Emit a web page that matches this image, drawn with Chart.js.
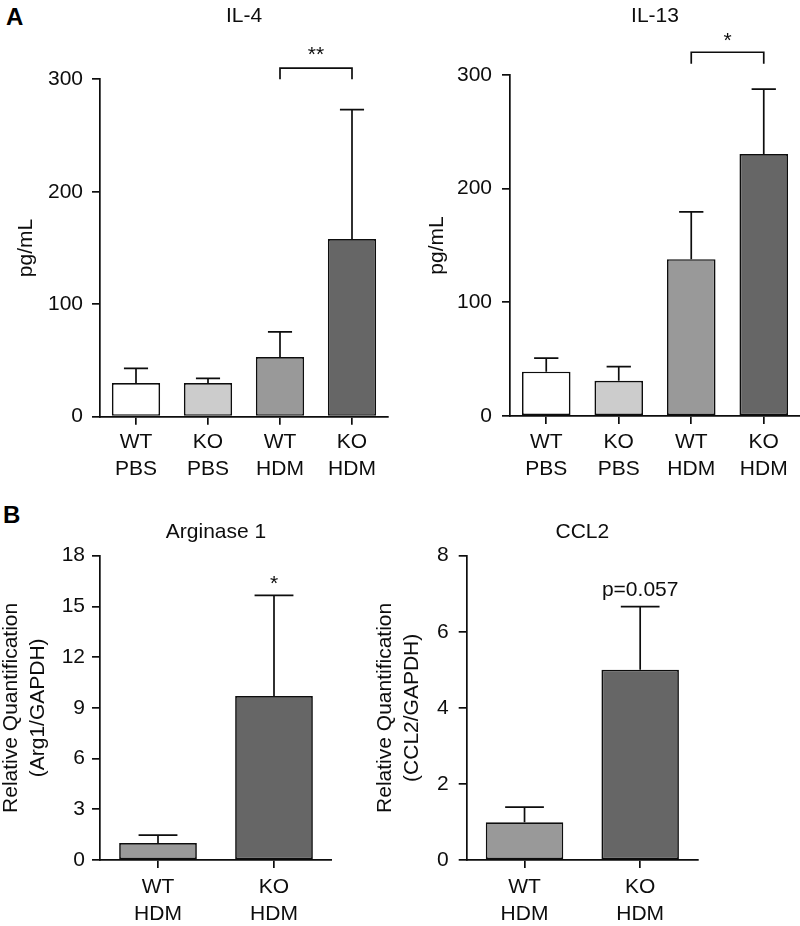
<!DOCTYPE html>
<html>
<head>
<meta charset="utf-8">
<script src="https://cdn.jsdelivr.net/npm/chart.js@4.4.1/dist/chart.umd.min.js"></script>
<style>
  body { margin: 0; width: 800px; height: 926px; position: relative; overflow: hidden; background: #fff; font-family: "Liberation Sans", Arial, sans-serif; }
  canvas { position: absolute; }
  .panel { position: absolute; font-weight: bold; font-size: 24px; line-height: 24px; color: #000; }
</style>
</head>
<body>
<div class="panel" style="left:6px; top:5px">A</div>
<div class="panel" style="left:3px; top:503px">B</div>
<canvas id="il4" width="400" height="490" style="left:0; top:0"></canvas>
<canvas id="il13" width="400" height="490" style="left:400px; top:0"></canvas>
<canvas id="arg1" width="342" height="436" style="left:-10px; top:490px"></canvas>
<canvas id="ccl2" width="330" height="436" style="left:370px; top:490px"></canvas>
<script>
// group labels
const groupsA = [['WT', 'PBS'], ['KO', 'PBS'], ['WT', 'HDM'], ['KO', 'HDM']];
const groupsB = [['WT', 'HDM'], ['KO', 'HDM']];

// means and SEM
const il4Mean = [30, 30, 53, 158];
const il4Sem = [13, 4, 22.5, 115];
const il13Mean = [39, 31, 138, 230.5];
const il13Sem = [12, 12.5, 41.5, 57];
const arg1Mean = [1.0, 9.7];
const arg1Sem = [0.47, 5.95];
const ccl2Mean = [0.99, 5.0];
const ccl2Sem = [0.4, 1.66];

const coloursA = ['#ffffff', '#cccccc', '#999999', '#666666'];
const coloursB = ['#999999', '#666666'];

const ink = '#0d0d0d';
Chart.defaults.font.family = '"Liberation Sans", Arial, sans-serif';
Chart.defaults.font.size = 21;
Chart.defaults.color = ink;

// error bars, titles, brackets and significance labels
const extras = {
  id: 'extras',
  afterDatasetsDraw(chart, args, opts) {
    const ctx = chart.ctx;
    const meta = chart.getDatasetMeta(0);
    const y = chart.scales.y;
    ctx.save();
    ctx.strokeStyle = ink;
    ctx.lineWidth = 1.7;
    meta.data.forEach((bar, i) => {
      const top = y.getPixelForValue(opts.mean[i] + opts.sem[i]);
      const half = bar.width / 4;
      ctx.beginPath();
      ctx.moveTo(bar.x, bar.y);
      ctx.lineTo(bar.x, top);
      ctx.moveTo(bar.x - half, top);
      ctx.lineTo(bar.x + half, top);
      ctx.stroke();
    });
    ctx.restore();
  },
  afterDraw(chart, args, opts) {
    const ctx = chart.ctx;
    const area = chart.chartArea;
    const meta = chart.getDatasetMeta(0);
    const y = chart.scales.y;
    ctx.save();
    ctx.fillStyle = ink;
    ctx.strokeStyle = ink;
    ctx.lineWidth = 1.7;
    ctx.textAlign = 'center';
    ctx.textBaseline = 'alphabetic';
    ctx.font = '21px "Liberation Sans", Arial, sans-serif';
    ctx.fillText(opts.title, (area.left + area.right) / 2, opts.titleY);

    if (opts.bracket) {
      const b = opts.bracket;
      const x1 = meta.data[b.from].x;
      const x2 = meta.data[b.to].x;
      const yb = y.getPixelForValue(b.at);
      const yl = y.getPixelForValue(b.leg);
      ctx.beginPath();
      ctx.moveTo(x1, yl);
      ctx.lineTo(x1, yb);
      ctx.lineTo(x2, yb);
      ctx.lineTo(x2, yl);
      ctx.stroke();
      ctx.fillText(b.label, (x1 + x2) / 2, yb - b.lift);
    }
    if (opts.mark) {
      const m = opts.mark;
      const bar = meta.data[m.index];
      const top = y.getPixelForValue(opts.mean[m.index] + opts.sem[m.index]);
      ctx.fillText(m.label, bar.x, top - m.lift);
    }
    ctx.restore();
  }
};

function makeChart(id, c) {
  return new Chart(document.getElementById(id), {
    type: 'bar',
    data: {
      labels: c.labels,
      datasets: [{
        data: c.mean,
        backgroundColor: c.colours,
        borderColor: ink,
        borderWidth: 1.7,
        borderSkipped: false,
        barPercentage: 0.67,
        categoryPercentage: 1
      }]
    },
    options: {
      responsive: false,
      animation: false,
      layout: { padding: { top: c.padTop, right: c.padRight, left: 0, bottom: 0 } },
      plugins: {
        legend: { display: false },
        tooltip: { enabled: false },
        extras: { mean: c.mean, sem: c.sem, title: c.title, titleY: c.titleY, bracket: c.bracket, mark: c.mark }
      },
      scales: {
        x: {
          grid: { drawOnChartArea: false, offset: false, tickLength: 8, color: ink, lineWidth: 1.7 },
          border: { color: ink, width: 1.7 },
          ticks: { padding: c.xPad, maxRotation: 0, autoSkip: false, font: { size: 21, lineHeight: 1.29 } },
          afterFit: s => { s.height = c.xHeight; }
        },
        y: {
          min: 0,
          max: c.yMax,
          grid: { drawOnChartArea: false, tickLength: 8, color: ink, lineWidth: 1.7 },
          border: { color: ink, width: 1.7 },
          ticks: { stepSize: c.yStep, padding: c.yPad, font: { size: 21 } },
          title: { display: true, text: c.yTitle, padding: { top: c.titlePad, bottom: 0 }, font: { size: 21, lineHeight: 1.29 } },
          afterFit: s => { s.width = c.yWidth; }
        }
      }
    },
    plugins: [extras]
  });
}

makeChart('il4', {
  labels: groupsA, mean: il4Mean, sem: il4Sem, colours: coloursA,
  yMax: 300, yStep: 100, yTitle: 'pg/mL', title: 'IL-4', titleY: 22,
  bracket: { from: 2, to: 3, at: 310, leg: 300, label: '**', lift: 7 },
  padTop: 79.3, padRight: 12, xHeight: 73.3, yWidth: 100, xPad: 3.5, yPad: 9, titlePad: 13
});

makeChart('il13', {
  labels: groupsA, mean: il13Mean, sem: il13Sem, colours: coloursA,
  yMax: 300, yStep: 100, yTitle: 'pg/mL', title: 'IL-13', titleY: 22,
  bracket: { from: 2, to: 3, at: 320, leg: 310, label: '*', lift: 5 },
  padTop: 75, padRight: 0, xHeight: 74, yWidth: 110, xPad: 4.5, yPad: 10, titlePad: 23.5
});

makeChart('arg1', {
  labels: groupsB, mean: arg1Mean, sem: arg1Sem, colours: coloursB,
  yMax: 18, yStep: 3, yTitle: ['Relative Quantification', '(Arg1/GAPDH)'], title: 'Arginase 1', titleY: 48,
  mark: { index: 1, label: '*', lift: 5 },
  padTop: 65.7, padRight: 0, xHeight: 66, yWidth: 110, xPad: 6, yPad: 7, titlePad: 7.5
});

makeChart('ccl2', {
  labels: groupsB, mean: ccl2Mean, sem: ccl2Sem, colours: coloursB,
  yMax: 8, yStep: 2, yTitle: ['Relative Quantification', '(CCL2/GAPDH)'], title: 'CCL2', titleY: 48,
  mark: { index: 1, label: 'p=0.057', lift: 10.7 },
  padTop: 65.7, padRight: 2, xHeight: 66, yWidth: 96.7, xPad: 6, yPad: 10, titlePad: 1.5
});
</script>
</body>
</html>
